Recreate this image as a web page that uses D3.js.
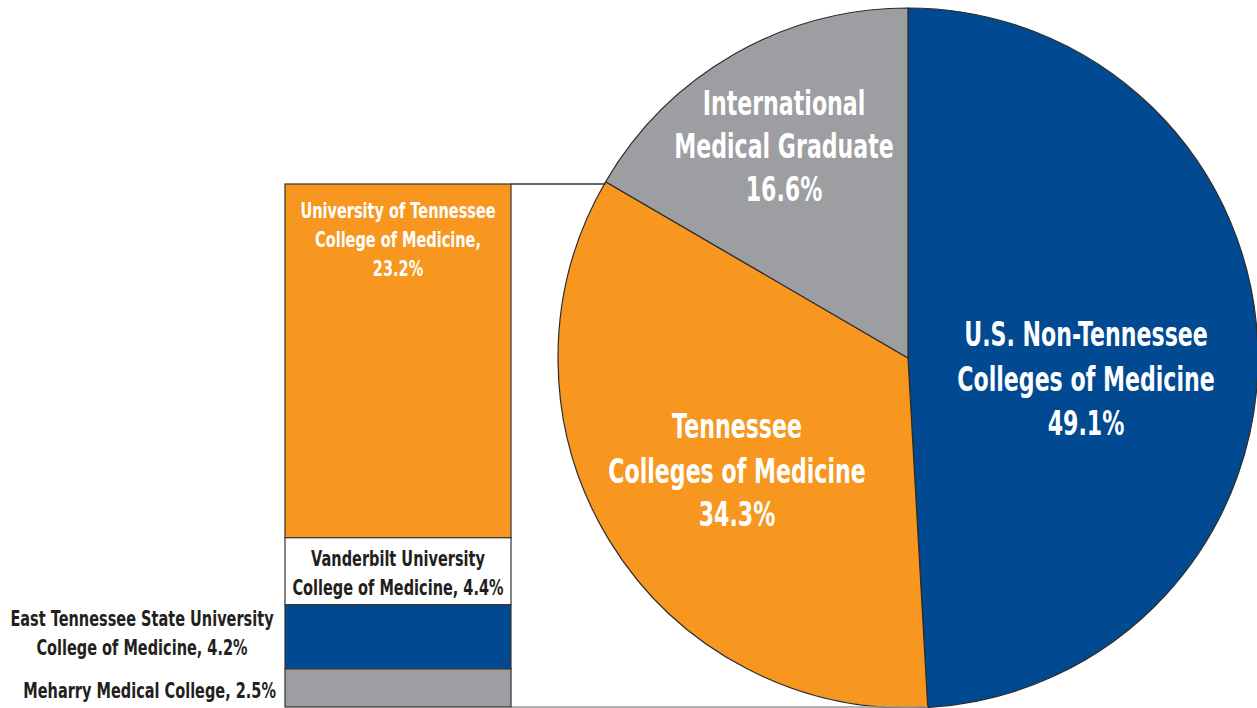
<!DOCTYPE html>
<html>
<head>
<meta charset="utf-8">
<script src="https://cdn.jsdelivr.net/npm/d3@7"></script>
<style>
  body { margin: 0; background: #fff; }
  svg { display: block; }
  text { font-family: "DejaVu Sans", sans-serif; font-weight: bold; }
</style>
</head>
<body>
<div id="chart"></div>
<script>
// pie: where residents went to medical school
const pieCategories = ['U.S. Non-Tennessee Colleges of Medicine', 'Tennessee Colleges of Medicine', 'International Medical Graduate'];
const pieValues = [49.1, 34.3, 16.6];
const pieLabelLines = [
  ['U.S. Non-Tennessee', 'Colleges of Medicine', '49.1%'],
  ['Tennessee', 'Colleges of Medicine', '34.3%'],
  ['International', 'Medical Graduate', '16.6%']
];

// breakdown of the Tennessee slice
const barCategories = ['University of Tennessee College of Medicine', 'Vanderbilt University College of Medicine', 'East Tennessee State University College of Medicine', 'Meharry Medical College'];
const barValues = [23.2, 4.4, 4.2, 2.5];
const barLabelLines = [
  ['University of Tennessee', 'College of Medicine,', '23.2%'],
  ['Vanderbilt University', 'College of Medicine, 4.4%'],
  ['East Tennessee State University', 'College of Medicine, 4.2%'],
  ['Meharry Medical College, 2.5%']
];

const svgWidth = 1257;
const svgHeight = 708;

const colors = {
  blue: '#014a92',
  orange: '#f7971f',
  gray: '#9c9ea1',
  white: '#ffffff',
  ink: '#231f20'
};

const pieColors = [colors.blue, colors.orange, colors.gray];
const barColors = [colors.orange, colors.white, colors.blue, colors.gray];

const svg = d3.select('#chart')
  .append('svg')
  .attr('width', svgWidth)
  .attr('height', svgHeight);

// ---- pie ----
const cx = 908;
const cy = 358;
const radius = 350;

const pie = d3.pie().sort(null).value(d => d)(pieValues);
const arc = d3.arc().innerRadius(0).outerRadius(radius);

const pieGroup = svg.append('g')
  .attr('transform', `translate(${cx}, ${cy})`);

pieGroup.selectAll('path')
  .data(pie)
  .enter()
  .append('path')
  .attr('d', arc)
  .attr('fill', (d, i) => pieColors[i])
  .attr('stroke', '#2b2b2b')
  .attr('stroke-width', 1.2);

// multi-line label, squeezed around its anchor x
// (no condensed bold font installed, so scale x instead)
function addLabel(x, baselines, lines, opts) {
  const g = svg.append('g')
    .attr('transform', `translate(${x}, 0) scale(${opts.squeeze}, 1)`);
  const t = g.append('text')
    .attr('text-anchor', opts.anchor || 'middle')
    .attr('fill', opts.fill)
    .style('font-size', opts.size + 'px');
  lines.forEach((line, j) => {
    t.append('tspan')
      .attr('x', 0)
      .attr('y', baselines[j])
      .text(line);
  });
}

// pie label spots, picked by eye
const pieLabelPos = [
  { x: 1086, ys: [346, 391, 435] },
  { x: 737, ys: [438, 483, 526] },
  { x: 784, ys: [115, 158, 201] }
];

pie.forEach((d, i) => {
  addLabel(pieLabelPos[i].x, pieLabelPos[i].ys, pieLabelLines[i],
    { fill: '#fff', size: 33, squeeze: 0.67 });
});

// ---- stacked bar ----
const barLeft = 285;
const barRight = 511;
const yScale = d3.scaleLinear()
  .domain([0, d3.sum(barValues)])
  .range([184, 707]);

let acc = 0;
const stacked = barValues.map((v, i) => {
  const seg = { i, y0: acc, y1: acc + v };
  acc += v;
  return seg;
});

// connector lines from the bar to the Tennessee slice edges
const tn = pie[1];
const edgeX = a => cx + radius * Math.sin(a);

svg.append('line')
  .attr('x1', barRight).attr('y1', yScale(0))
  .attr('x2', edgeX(tn.endAngle)).attr('y2', yScale(0))
  .attr('stroke', '#333').attr('stroke-width', 1.5);

svg.append('line')
  .attr('x1', barRight).attr('y1', yScale(acc))
  .attr('x2', edgeX(tn.startAngle)).attr('y2', yScale(acc))
  .attr('stroke', '#999').attr('stroke-width', 1.5);

svg.selectAll('rect.seg')
  .data(stacked)
  .enter()
  .append('rect')
  .attr('class', 'seg')
  .attr('x', barLeft)
  .attr('y', d => yScale(d.y0))
  .attr('width', barRight - barLeft)
  .attr('height', d => yScale(d.y1) - yScale(d.y0))
  .attr('fill', d => barColors[d.i])
  .attr('stroke', '#333')
  .attr('stroke-width', 1.2);

// bar labels
const barMid = (barLeft + barRight) / 2;
const barLabelSpec = [
  { x: barMid, ys: [218, 247, 276], fill: '#fff' },
  { x: barMid, ys: [566, 595], fill: colors.ink },
  { x: 142, ys: [626, 655], fill: colors.ink },
  { x: 276, ys: [698], fill: colors.ink, anchor: 'end' }
];

barLabelSpec.forEach((s, i) => {
  addLabel(s.x, s.ys, barLabelLines[i],
    { fill: s.fill, size: 22, anchor: s.anchor, squeeze: 0.66 });
});
</script>
</body>
</html>
